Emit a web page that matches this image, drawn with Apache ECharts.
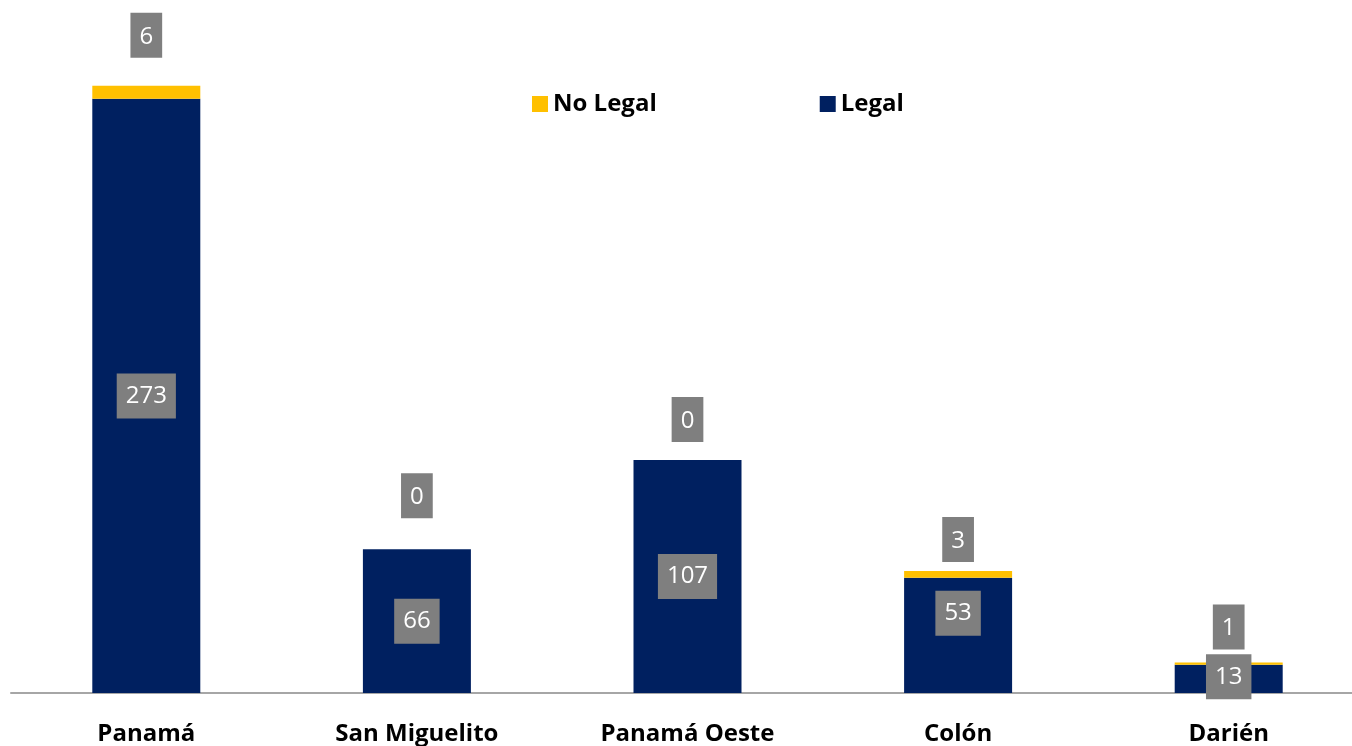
<!DOCTYPE html>
<html>
<head>
<meta charset="utf-8">
<script src="https://cdn.jsdelivr.net/npm/echarts@6/dist/echarts.min.js"></script>
<style>
  html, body { margin: 0; padding: 0; background: #fff; overflow: hidden; }
  /* plot area runs past the right edge of the window, as in the original */
  #chart { width: 1364px; height: 746px; }
</style>
</head>
<body>
<div id="chart"></div>
<script>
// 数据
const categories = ['Panamá', 'San Miguelito', 'Panamá Oeste', 'Colón', 'Darién']
const legalValues = [273, 66, 107, 53, 13]
const noLegalValues = [6, 0, 0, 3, 1]

// label placement (manually nudged like the original)
const noLegalLabelGap = [28, 31, 18, 9, 13]
const legalLabelShift = [0, 0, 0, -22, -2]

const labelBox = {
  color: '#fff',
  fontSize: 24,
  fontFamily: 'Open Sans',
  backgroundColor: '#7f7f7f',
  padding: [12, 9, 9, 9]
}

const chart = echarts.init(document.getElementById('chart'))

chart.setOption({
  animation: false,
  grid: {
    left: 11,
    top: 40,
    bottom: 53,
    right: 0
  },
  legend: {
    left: 527,
    top: 87,
    icon: 'rect',
    itemWidth: 16,
    itemHeight: 16,
    itemGap: 163,
    data: ['No Legal', 'Legal'],
    textStyle: {
      color: '#000',
      fontSize: 24,
      fontWeight: 'bold',
      fontFamily: 'Open Sans'
    }
  },
  xAxis: {
    type: 'category',
    data: categories,
    axisLine: { lineStyle: { color: '#a6a6a6', width: 2 } },
    axisTick: { show: false },
    axisLabel: {
      color: '#000',
      fontSize: 24,
      fontWeight: 'bold',
      fontFamily: 'Open Sans',
      margin: 29
    }
  },
  yAxis: {
    type: 'value',
    min: 0,
    max: 300,
    show: false,
    splitLine: { show: false }
  },
  series: [
    {
      name: 'Legal',
      type: 'bar',
      stack: 'total',
      barWidth: 108,
      itemStyle: { color: '#002060' },
      label: {
        show: true,
        position: 'inside',
        ...labelBox
      },
      data: legalValues.map((v, i) => ({
        value: v,
        label: { offset: [0, legalLabelShift[i]] }
      }))
    },
    {
      name: 'No Legal',
      type: 'bar',
      stack: 'total',
      barWidth: 108,
      itemStyle: { color: '#ffc000' },
      label: {
        show: true,
        position: 'top',
        ...labelBox
      },
      data: noLegalValues.map((v, i) => ({
        value: v,
        label: { distance: noLegalLabelGap[i] }
      }))
    }
  ]
})
</script>
</body>
</html>
